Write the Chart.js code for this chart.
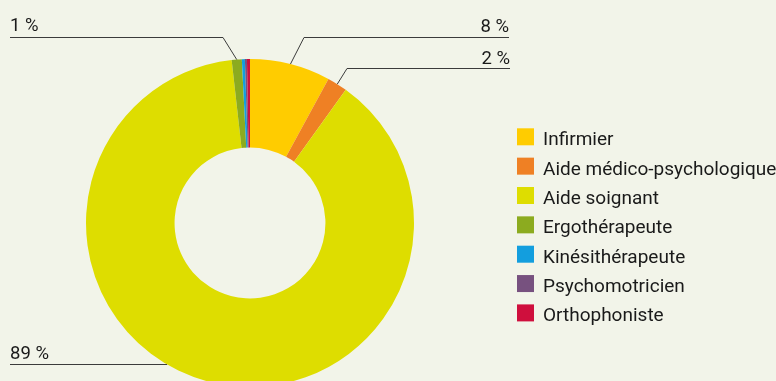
<!DOCTYPE html>
<html lang="fr">
<head>
<meta charset="utf-8">
<title>Répartition par profession</title>
<script src="https://cdn.jsdelivr.net/npm/chart.js@4/dist/chart.umd.min.js"></script>
<style>
    html, body {
        margin: 0;
        padding: 0;
        width: 776px;
        height: 381px;
        overflow: hidden;
        background: #f2f4e9;
    }
    #wrap {
        position: absolute;
        left: 0;
        top: 0;
        width: 776px;
        height: 400px;
    }
</style>
</head>
<body>
<div id="wrap"><canvas id="professionChart"></canvas></div>
<script>
const professions = [
    'Infirmier',
    'Aide médico-psychologique',
    'Aide soignant',
    'Ergothérapeute',
    'Kinésithérapeute',
    'Psychomotricien',
    'Orthophoniste'
];
const shares = [8, 2, 89, 1, 0.3, 0.2, 0.3];
const sliceColors = ['#ffcc00', '#ef8024', '#dedd00', '#8cab1f', '#139ede', '#77517f', '#cf0f3d'];
// slices that get a percentage callout
const labelledSlices = [0, 1, 2, 3];

const TEXT_FONT = 'Roboto, "Open Sans", sans-serif';

// leader line layout for each labelled slice
const calloutLayout = {
    0: { lineY: 37.5, textY: 31.5, elbowX: 304, endX: 509 },
    1: { lineY: 68.5, textY: 63.8, elbowX: 347, endX: 510 },
    2: { lineY: 364.5, textY: 359.3, elbowX: null, endX: 10 },
    3: { lineY: 37.5, textY: 30.7, elbowX: 223, endX: 10 }
};

const calloutPlugin = {
    id: 'callouts',
    afterDatasetsDraw: function(chart) {
        const ctx = chart.ctx;
        const arcs = chart.getDatasetMeta(0).data;
        const values = chart.data.datasets[0].data;

        ctx.save();
        ctx.strokeStyle = '#3b3b3b';
        ctx.lineWidth = 1;
        ctx.fillStyle = '#1a1a1a';
        ctx.font = '18.5px ' + TEXT_FONT;
        ctx.textBaseline = 'alphabetic';

        labelledSlices.forEach(function(index) {
            const arc = arcs[index];
            const layout = calloutLayout[index];
            const r = arc.outerRadius;
            ctx.beginPath();
            ctx.moveTo(layout.endX, layout.lineY);
            if (layout.elbowX !== null) {
                const mid = (arc.startAngle + arc.endAngle) / 2;
                ctx.lineTo(layout.elbowX, layout.lineY);
                ctx.lineTo(arc.x + Math.cos(mid) * r, arc.y + Math.sin(mid) * r);
            } else {
                const dy = layout.lineY - arc.y;
                ctx.lineTo(arc.x - Math.sqrt(r * r - dy * dy), layout.lineY);
            }
            ctx.stroke();

            ctx.textAlign = layout.endX > arc.x ? 'right' : 'left';
            ctx.fillText(Math.round(values[index]) + ' %', layout.endX, layout.textY);
        });
        ctx.restore();
    }
};

const legendPlugin = {
    id: 'sideLegend',
    afterDraw: function(chart) {
        const ctx = chart.ctx;
        const colors = chart.data.datasets[0].backgroundColor;
        const boxSize = 17;
        const rowStep = 29.35;
        const top = 128.3;

        ctx.save();
        ctx.font = '19px ' + TEXT_FONT;
        ctx.textAlign = 'left';
        ctx.textBaseline = 'alphabetic';
        chart.data.labels.forEach(function(label, i) {
            const y = top + i * rowStep;
            ctx.fillStyle = colors[i];
            ctx.fillRect(517, y, boxSize, boxSize);
            ctx.fillStyle = '#1a1a1a';
            ctx.fillText(label, 543, y + boxSize);
        });
        ctx.restore();
    }
};

new Chart(document.getElementById('professionChart'), {
    type: 'doughnut',
    data: {
        labels: professions,
        datasets: [{
            data: shares,
            backgroundColor: sliceColors,
            borderWidth: 0,
            hoverOffset: 0
        }]
    },
    options: {
        responsive: true,
        maintainAspectRatio: false,
        animation: false,
        cutout: '46%',
        layout: {
            padding: { top: 59, bottom: 13, left: 86, right: 362 }
        },
        plugins: {
            legend: { display: false },
            tooltip: { enabled: false }
        }
    },
    plugins: [calloutPlugin, legendPlugin]
});
</script>
</body>
</html>
